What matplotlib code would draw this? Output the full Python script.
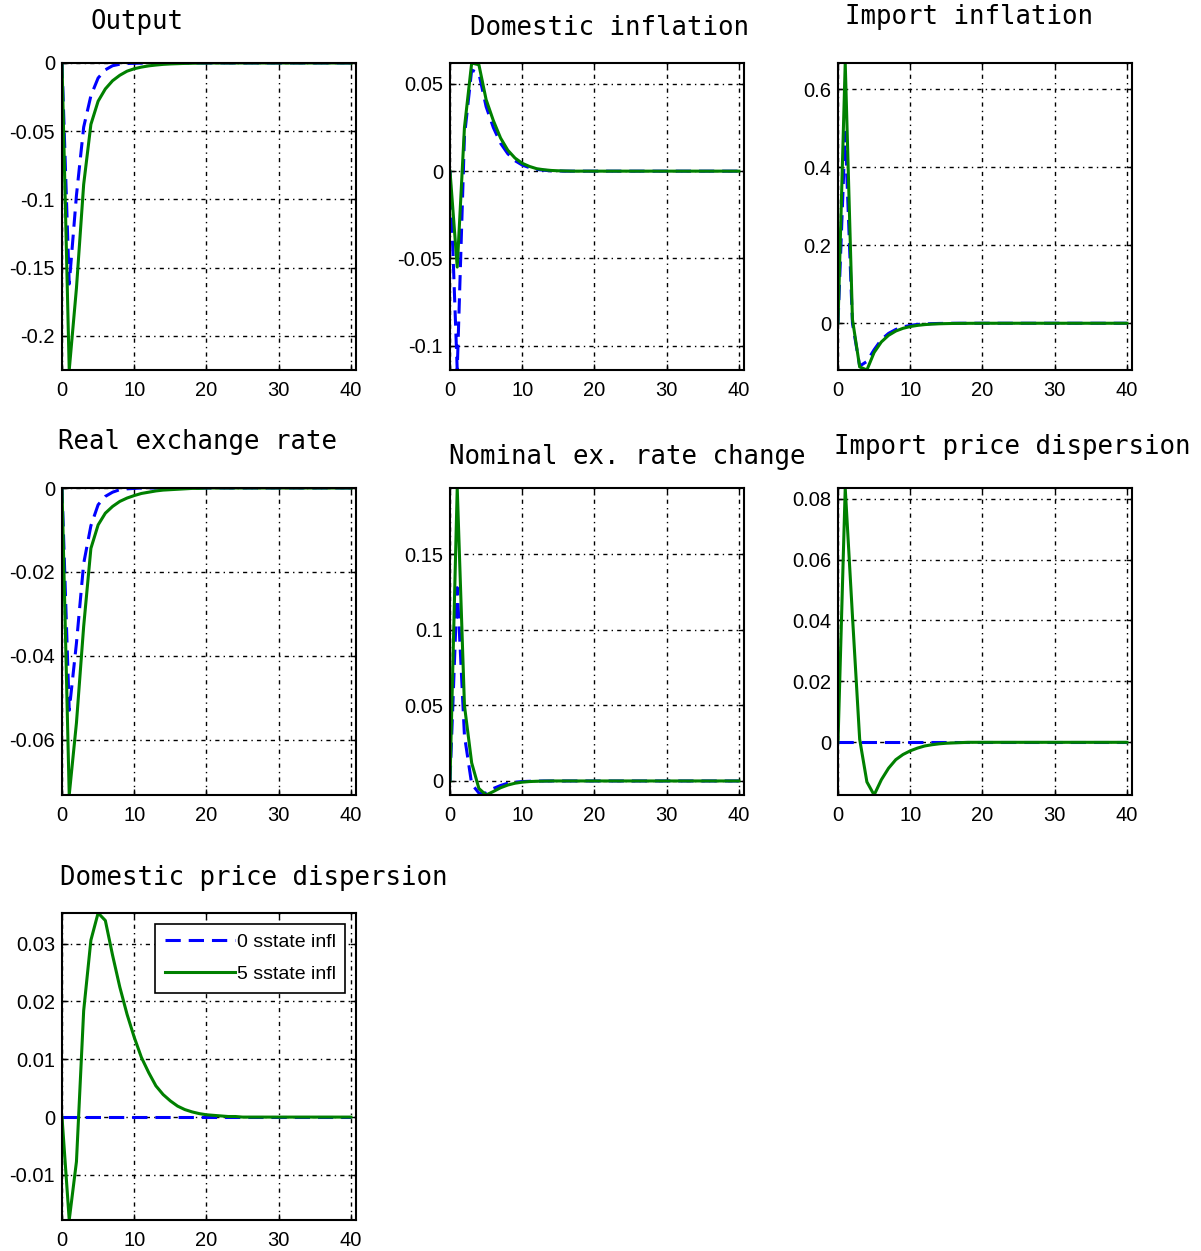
import numpy as np
import matplotlib
matplotlib.use("Agg")
import matplotlib.pyplot as plt

# periods 0..40
t = np.arange(41)

# responses: "_0" = 0 sstate infl (blue), "_5" = 5 sstate infl (green)
output_0 = [0, -0.162, -0.097, -0.047, -0.024, -0.011, -0.005, -0.002, -0.0009, -0.0004,
            -0.0002, -0.0001, 0, 0, 0, 0, 0, 0, 0, 0,
            0, 0, 0, 0, 0, 0, 0, 0, 0, 0,
            0, 0, 0, 0, 0, 0, 0, 0, 0, 0, 0]
output_5 = [0, -0.225, -0.165, -0.089, -0.045, -0.028, -0.019, -0.013, -0.009, -0.006,
            -0.0042, -0.003, -0.0021, -0.0015, -0.001, -0.0007, -0.0005, -0.0003, -0.0002, -0.0001,
            0, 0, 0, 0, 0, 0, 0, 0, 0, 0,
            0, 0, 0, 0, 0, 0, 0, 0, 0, 0, 0]

dom_inf_0 = [0, -0.114, 0.02, 0.058, 0.056, 0.037, 0.025, 0.016, 0.010, 0.006,
             0.0035, 0.002, 0.001, 0.0005, 0.0002, 0.0001, 0, 0, 0, 0,
             0, 0, 0, 0, 0, 0, 0, 0, 0, 0,
             0, 0, 0, 0, 0, 0, 0, 0, 0, 0, 0]
dom_inf_5 = [0, -0.055, 0.025, 0.062, 0.061, 0.041, 0.029, 0.019, 0.012, 0.0075,
             0.0045, 0.0027, 0.0014, 0.0008, 0.0004, 0.0002, 0.0001, 0, 0, 0,
             0, 0, 0, 0, 0, 0, 0, 0, 0, 0,
             0, 0, 0, 0, 0, 0, 0, 0, 0, 0, 0]

imp_inf_0 = [0, 0.49, 0.0, -0.11, -0.098, -0.068, -0.042, -0.026, -0.016, -0.0095,
             -0.0055, -0.003, -0.0017, -0.001, -0.0005, -0.0003, -0.0001, 0, 0, 0,
             0, 0, 0, 0, 0, 0, 0, 0, 0, 0,
             0, 0, 0, 0, 0, 0, 0, 0, 0, 0, 0]
imp_inf_5 = [0, 0.668, 0.01, -0.112, -0.12, -0.075, -0.048, -0.031, -0.020, -0.013,
             -0.0085, -0.0055, -0.0035, -0.0022, -0.0014, -0.0009, -0.0005, -0.0003, -0.0002, -0.0001,
             0, 0, 0, 0, 0, 0, 0, 0, 0, 0,
             0, 0, 0, 0, 0, 0, 0, 0, 0, 0, 0]

rer_0 = [0, -0.053, -0.037, -0.018, -0.009, -0.004, -0.002, -0.001, -0.0004, -0.0002,
         -0.0001, 0, 0, 0, 0, 0, 0, 0, 0, 0,
         0, 0, 0, 0, 0, 0, 0, 0, 0, 0,
         0, 0, 0, 0, 0, 0, 0, 0, 0, 0, 0]
rer_5 = [0, -0.0732, -0.056, -0.033, -0.0144, -0.0088, -0.006, -0.0044, -0.0032, -0.0024,
         -0.0018, -0.0013, -0.001, -0.0007, -0.0005, -0.0004, -0.0003, -0.0002, -0.0001, -0.0001,
         0, 0, 0, 0, 0, 0, 0, 0, 0, 0,
         0, 0, 0, 0, 0, 0, 0, 0, 0, 0, 0]

ner_0 = [0, 0.128, 0.03, -0.002, -0.008, -0.008, -0.005, -0.003, -0.0015, -0.0008,
         -0.0004, -0.0002, -0.0001, 0, 0, 0, 0, 0, 0, 0,
         0, 0, 0, 0, 0, 0, 0, 0, 0, 0,
         0, 0, 0, 0, 0, 0, 0, 0, 0, 0, 0]
ner_5 = [0, 0.194, 0.05, 0.012, -0.005, -0.0093, -0.007, -0.0045, -0.0027, -0.0015,
         -0.0008, -0.0004, -0.0002, -0.0001, 0, 0, 0, 0, 0, 0,
         0, 0, 0, 0, 0, 0, 0, 0, 0, 0,
         0, 0, 0, 0, 0, 0, 0, 0, 0, 0, 0]

ipd_0 = [0] * 41
ipd_5 = [0, 0.0835, 0.0415, 0.001, -0.013, -0.0173, -0.0123, -0.0085, -0.0057, -0.004,
         -0.0028, -0.0019, -0.0012, -0.0008, -0.0005, -0.0003, -0.0002, -0.0001, 0, 0,
         0, 0, 0, 0, 0, 0, 0, 0, 0, 0,
         0, 0, 0, 0, 0, 0, 0, 0, 0, 0, 0]

dpd_0 = [0] * 41
dpd_5 = [0, -0.0178, -0.0077, 0.0184, 0.0306, 0.0353, 0.034, 0.028, 0.0225, 0.0178,
         0.0138, 0.0103, 0.0077, 0.0054, 0.0039, 0.0028, 0.0019, 0.0013, 0.0009, 0.0006,
         0.0004, 0.0003, 0.0002, 0.0001, 0.0001, 0, 0, 0, 0, 0,
         0, 0, 0, 0, 0, 0, 0, 0, 0, 0, 0]

titles = ["Output", "Domestic inflation", "Import inflation",
          "Real exchange rate", "Nominal ex. rate change", "Import price dispersion",
          "Domestic price dispersion"]
series = [(output_0, output_5), (dom_inf_0, dom_inf_5), (imp_inf_0, imp_inf_5),
          (rer_0, rer_5), (ner_0, ner_5), (ipd_0, ipd_5), (dpd_0, dpd_5)]
yticks = [[-0.2, -0.15, -0.1, -0.05, 0],
          [-0.1, -0.05, 0, 0.05],
          [0, 0.2, 0.4, 0.6],
          [-0.06, -0.04, -0.02, 0],
          [0, 0.05, 0.1, 0.15],
          [0, 0.02, 0.04, 0.06, 0.08],
          [-0.01, 0, 0.01, 0.02, 0.03]]
xticks = [0, 10, 20, 30, 40]
labels = ["0 sstate infl", "5 sstate infl"]

# layout in pixels (figure is 1201 x 1251)
W, H = 1201, 1251
col_x = [62, 450, 838]
row_y = [63, 488, 913]
ax_w, ax_h = 294, 307
title_pos = [(137, 22), (609, 28), (969, 17), (197, 442), (627, 457), (1012, 447), (254, 878)]

tick_font = ["Liberation Sans", "DejaVu Sans"]
title_font = ["DejaVu Sans Mono"]

fig = plt.figure(figsize=(W / 100, H / 100), dpi=100)

for i in range(7):
    r, c = divmod(i, 3)
    ax = fig.add_axes([col_x[c] / W, 1 - (row_y[r] + ax_h) / H, ax_w / W, ax_h / H])
    y0, y5 = series[i]
    ax.plot(t, y0, color=(0, 0, 1), lw=2.2, linestyle=(0, (5, 2.6)), label=labels[0])
    ax.plot(t, y5, color=(0, 0.5, 0), lw=2.2, label=labels[1])
    lo = min(min(y0), min(y5))
    hi = max(max(y0), max(y5))
    ax.set_ylim(lo, hi)
    ax.set_xlim(0, 40.7)
    ax.set_xticks(xticks)
    ax.set_yticks(yticks[i])
    ax.set_xticklabels([str(x) for x in xticks], fontfamily=tick_font, fontsize=14.5)
    ax.set_yticklabels(["%g" % v for v in yticks[i]], fontfamily=tick_font, fontsize=14.5)
    ax.tick_params(axis="x", direction="in", length=4, width=1, top=True, pad=8)
    ax.tick_params(axis="y", direction="in", length=4, width=1, right=True, pad=5)
    ax.grid(True, color="black", linestyle=(0, (3, 3, 1, 3)), linewidth=1.0)
    for sp in ax.spines.values():
        sp.set_linewidth(1.5)
    fig.text(title_pos[i][0] / W, 1 - title_pos[i][1] / H, titles[i],
             ha="center", va="center", fontfamily=title_font, fontsize=18.5)
    if i == 6:
        leg = ax.legend(loc="upper right", handlelength=3.6,
                        fancybox=False, framealpha=1, edgecolor="black",
                        borderpad=0.5, labelspacing=0.75, handletextpad=0.1,
                        borderaxespad=0.55, prop={"family": tick_font, "size": 14})
        leg.get_frame().set_linewidth(1.2)

fig.savefig("out.png", dpi=100)
